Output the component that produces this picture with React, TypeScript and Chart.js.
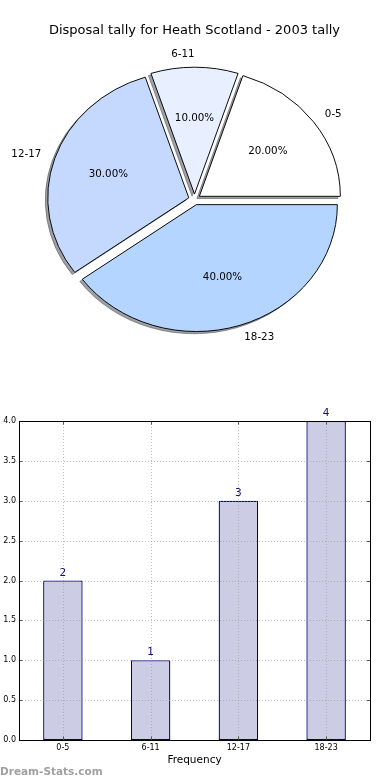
import React, { useEffect, useRef } from "react";
import { Chart, registerables } from "chart.js";

Chart.register(...registerables);

const chartTitle = "Disposal tally for Heath Scotland - 2003 tally";
const categories = ["0-5", "6-11", "12-17", "18-23"];
const frequencies = [2, 1, 3, 4];
const sliceColors = ["#ffffff", "#e8f0ff", "#c5d9ff", "#b4d5ff"];
const yMax = 4;
const yStep = 0.5;
const xTitle = "Frequency";
const watermark = "Dream-Stats.com";

const FONT = "DejaVu Sans";
const SY = 0.9; // vertical squash of the pie (elliptical pie)
const EXPLODE = 6;
const FAR = 3000;

const pieDraw = {
  id: "pieDraw",
  beforeDatasetsDraw(chart: any) {
    const ctx = chart.ctx;
    const arcs = chart.getDatasetMeta(0).data;
    if (!arcs.length) return false;
    const cx = arcs[0].x;
    const cy = arcs[0].y;
    const place = (arc: any) => {
      const mid = (arc.startAngle + arc.endAngle) / 2;
      ctx.translate(cx, cy);
      ctx.scale(1, SY);
      ctx.translate(-cx, -cy);
      ctx.translate(Math.cos(mid) * EXPLODE, Math.sin(mid) * EXPLODE);
    };
    // shadows
    arcs.forEach((arc: any) => {
      ctx.save();
      ctx.shadowColor = "rgba(60,66,76,0.5)";
      ctx.shadowBlur = 0;
      ctx.shadowOffsetX = FAR - 2.5;
      ctx.shadowOffsetY = 2.2;
      ctx.translate(-FAR, 0);
      place(arc);
      arc.draw(ctx);
      ctx.restore();
    });
    // slices
    arcs.forEach((arc: any) => {
      ctx.save();
      place(arc);
      arc.draw(ctx);
      ctx.restore();
    });
    return false;
  },
  afterDraw(chart: any) {
    const ctx = chart.ctx;
    const arcs = chart.getDatasetMeta(0).data;
    const labels = chart.data.labels;
    const values = chart.data.datasets[0].data as number[];
    const total = values.reduce((a, b) => a + b, 0);
    if (!arcs.length) return;
    const cx = arcs[0].x;
    const cy = arcs[0].y;
    ctx.save();
    ctx.fillStyle = "#000";
    ctx.font = `10.3px "${FONT}"`;
    ctx.textBaseline = "middle";
    arcs.forEach((arc: any, i: number) => {
      const mid = (arc.startAngle + arc.endAngle) / 2;
      const c = Math.cos(mid);
      const s = Math.sin(mid);
      const R = arc.outerRadius;
      const lr = EXPLODE + 1.1 * R;
      ctx.textAlign = c > 0.01 ? "left" : "right";
      ctx.fillText(labels[i], cx + c * lr, cy + SY * s * lr);
      const pr = EXPLODE + 0.6 * R;
      ctx.textAlign = "center";
      ctx.fillText(((values[i] / total) * 100).toFixed(2) + "%", cx + c * pr, cy + SY * s * pr);
    });
    ctx.restore();
  },
};

const barDecor = {
  id: "barDecor",
  afterDatasetsDraw(chart: any) {
    const { ctx, chartArea: a, scales } = chart;
    const x = scales.x;
    const y = scales.y;
    ctx.save();
    const line = (x1: number, y1: number, x2: number, y2: number) => {
      ctx.beginPath();
      ctx.moveTo(x1, y1);
      ctx.lineTo(x2, y2);
      ctx.stroke();
    };
    // dotted grid over bars
    ctx.strokeStyle = "rgba(150,150,150,0.6)";
    ctx.lineWidth = 1;
    ctx.setLineDash([1, 2]);
    y.ticks.forEach((t: any) => {
      const py = Math.round(y.getPixelForValue(t.value)) + 0.5;
      line(a.left, py, a.right, py);
    });
    x.ticks.forEach((_t: any, i: number) => {
      const px = Math.round(x.getPixelForValue(i)) + 0.5;
      line(px, a.top, px, a.bottom);
    });
    ctx.setLineDash([]);
    // inward ticks
    ctx.strokeStyle = "#555";
    const tl = 3.5;
    y.ticks.forEach((t: any) => {
      const py = Math.round(y.getPixelForValue(t.value)) + 0.5;
      line(a.left, py, a.left + tl, py);
      line(a.right - tl, py, a.right, py);
    });
    x.ticks.forEach((_t: any, i: number) => {
      const px = Math.round(x.getPixelForValue(i)) + 0.5;
      line(px, a.top, px, a.top + tl);
      line(px, a.bottom - tl, px, a.bottom);
    });
    // frame
    ctx.strokeStyle = "#000";
    ctx.strokeRect(a.left + 0.5, a.top + 0.5, a.right - a.left, a.bottom - a.top);
    // value labels
    const meta = chart.getDatasetMeta(0);
    const vals = chart.data.datasets[0].data as number[];
    ctx.fillStyle = "#10107a";
    ctx.font = `10.5px "${FONT}"`;
    ctx.textAlign = "center";
    ctx.textBaseline = "alphabetic";
    meta.data.forEach((bar: any, i: number) => {
      ctx.fillText(String(vals[i]), bar.x, bar.y - 5);
    });
    ctx.restore();
  },
};

export default function App() {
  const pieRef = useRef<HTMLCanvasElement>(null);
  const barRef = useRef<HTMLCanvasElement>(null);

  useEffect(() => {
    Chart.defaults.font.family = FONT;
    Chart.defaults.color = "#000";
    const rev = <T,>(arr: T[]) => arr.slice().reverse();

    const pie = new Chart(pieRef.current as HTMLCanvasElement, {
      type: "pie",
      data: {
        labels: rev(categories),
        datasets: [
          {
            data: rev(frequencies),
            backgroundColor: rev(sliceColors),
            borderColor: "#000",
            borderWidth: 1,
            borderJoinStyle: "miter",
            offset: 0,
            hoverOffset: 0,
          } as any,
        ],
      },
      options: {
        responsive: false,
        animation: false,
        rotation: 90,
        radius: 141,
        events: [],
        layout: { padding: { top: 23, left: 0, right: 1, bottom: 9.6 } },
        plugins: {
          legend: { display: false },
          tooltip: { enabled: false },
          title: {
            display: true,
            text: chartTitle,
            color: "#000",
            font: { size: 13, weight: "normal", family: FONT, lineHeight: 1.2 },
            padding: { top: 0, bottom: 10 },
          },
        },
      } as any,
      plugins: [pieDraw],
    });

    const bar = new Chart(barRef.current as HTMLCanvasElement, {
      type: "bar",
      data: {
        labels: categories,
        datasets: [
          {
            data: frequencies,
            backgroundColor: "#ccccE5",
            borderColor: "#00007f",
            borderWidth: 1.3,
            borderSkipped: false,
            barPercentage: 0.45,
            categoryPercentage: 1,
          },
        ],
      },
      options: {
        responsive: false,
        animation: false,
        events: [],
        layout: { padding: { top: 21, left: 0, right: 20, bottom: 0 } },
        plugins: {
          legend: { display: false },
          tooltip: { enabled: false },
        },
        scales: {
          x: {
            grid: { display: false, drawTicks: false },
            border: { display: false },
            ticks: { font: { size: 8, family: FONT }, color: "#000", padding: 3, maxRotation: 0 },
            title: {
              display: true,
              text: xTitle,
              color: "#000",
              font: { size: 10.5, family: FONT, lineHeight: 1.2 },
              padding: { top: 0, bottom: 13.7 },
            },
            afterFit: (s: any) => {
              s.height = 40;
            },
          },
          y: {
            min: 0,
            max: yMax,
            grid: { display: false, drawTicks: false },
            border: { display: false },
            ticks: {
              stepSize: yStep,
              font: { size: 8, family: FONT },
              color: "#000",
              padding: 3,
              callback: (v: any) => Number(v).toFixed(1),
            },
            afterFit: (s: any) => {
              s.width = 19;
            },
          },
        },
      } as any,
      plugins: [barDecor],
    });

    return () => {
      pie.destroy();
      bar.destroy();
    };
  }, []);

  return (
    <div style={{ position: "absolute", left: 0, top: 0, width: 390, height: 780, background: "#fff", overflow: "hidden" }}>
      <canvas ref={pieRef} width={390} height={360} style={{ position: "absolute", left: 0, top: 0 }} />
      <canvas ref={barRef} width={390} height={380} style={{ position: "absolute", left: 0, top: 400 }} />
      <div
        style={{
          position: "absolute",
          left: 0,
          top: 764,
          fontFamily: FONT,
          fontWeight: "bold",
          fontSize: 10.5,
          color: "#a0a0a0",
          lineHeight: "14px",
          whiteSpace: "nowrap",
        }}
      >
        {watermark}
      </div>
    </div>
  );
}
